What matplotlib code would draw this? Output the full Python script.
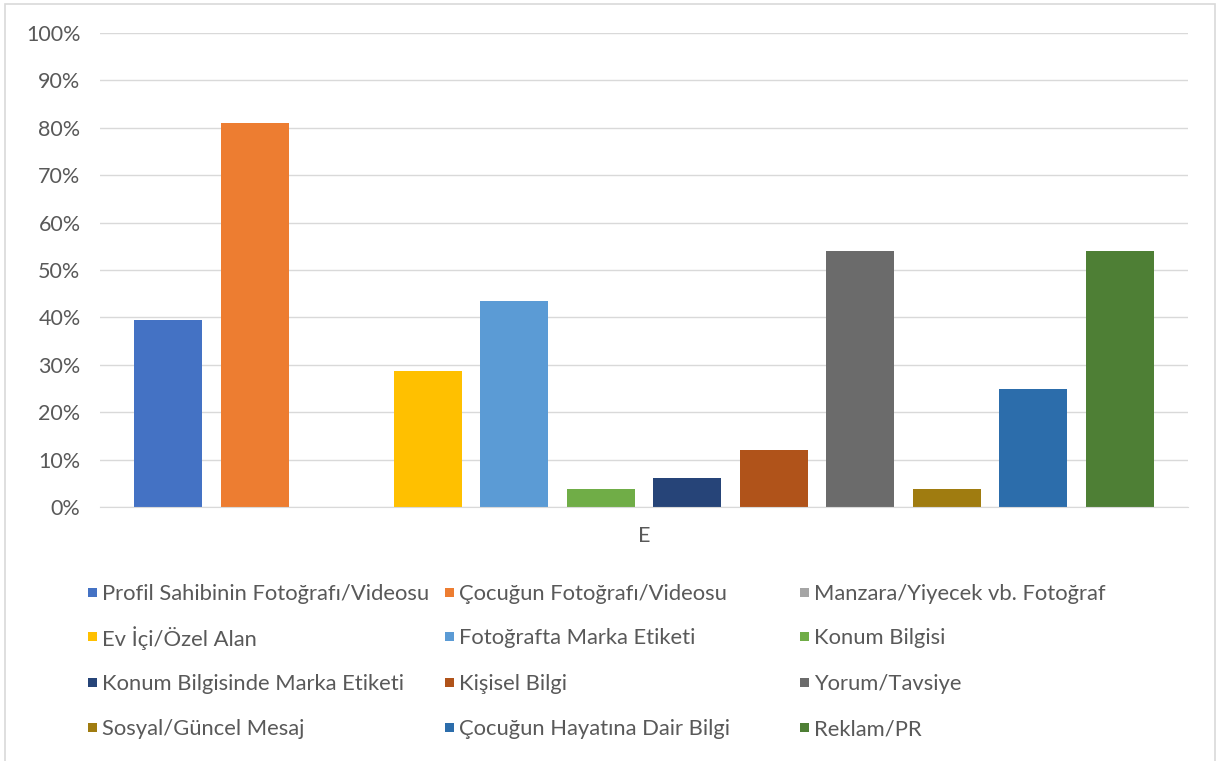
import matplotlib.pyplot as plt
from matplotlib.patches import Rectangle
from matplotlib.ticker import PercentFormatter

plt.rcParams['font.family'] = ['Lato', 'DejaVu Sans']

# ── data ───────────────────────────────────────────────
category = "E"
series = [
    "Profil Sahibinin Fotoğrafı/Videosu",
    "Çocuğun Fotoğrafı/Videosu",
    "Manzara/Yiyecek vb. Fotoğraf",
    "Ev İçi/Özel Alan",
    "Fotoğrafta Marka Etiketi",
    "Konum Bilgisi",
    "Konum Bilgisinde Marka Etiketi",
    "Kişisel Bilgi",
    "Yorum/Tavsiye",
    "Sosyal/Güncel Mesaj",
    "Çocuğun Hayatına Dair Bilgi",
    "Reklam/PR",
]
values = [39.5, 81.0, 0.0, 28.7, 43.5, 3.8, 6.2, 12.0, 54.0, 3.8, 24.9, 54.0]
colors = ["#4472C4", "#ED7D31", "#A5A5A5", "#FFC000", "#5B9BD5", "#70AD47",
          "#264478", "#B0531A", "#6B6B6B", "#A07C10", "#2C6DAB", "#4E7F35"]
yticks = list(range(0, 101, 10))

TEXT = "#595959"
W, H = 1222, 761

fig = plt.figure(figsize=(W / 100, H / 100), dpi=100)
ax = fig.add_axes([0.0818, 0.3338, 0.8905, 0.6228])

pitch = 0.0795
width = 0.0625
n = len(series)
for i, (v, c) in enumerate(zip(values, colors)):
    ax.bar((i - (n - 1) / 2) * pitch, v, width=width, color=c, zorder=2)

ax.set_xlim(-0.5, 0.5)
ax.set_ylim(0, 100)
ax.set_yticks(yticks)
ax.yaxis.set_major_formatter(PercentFormatter(decimals=0))
ax.set_xticks([0])
ax.set_xticklabels([category])
ax.tick_params(axis="both", length=0, labelsize=15.5, labelcolor=TEXT)
ax.tick_params(axis="y", pad=14)
ax.tick_params(axis="x", pad=14)
ax.grid(axis="y", color="#D9D9D9", linewidth=1, zorder=0)
for s in ["top", "right", "left"]:
    ax.spines[s].set_visible(False)
ax.spines["bottom"].set_color("#D9D9D9")

# legend: Excel-style grid, 3 columns filled row by row (pixel layout)
col_px = [88, 445, 800]
row_px = [592, 636, 682, 727]
box = 9
for i, (name, c) in enumerate(zip(series, colors)):
    x = col_px[i % 3]
    y = row_px[i // 3]
    fig.add_artist(Rectangle((x / W, 1 - (y + box / 2) / H), box / W, box / H,
                             transform=fig.transFigure, facecolor=c,
                             edgecolor="none"))
    fig.text((x + box + 5) / W, 1 - y / H, name, fontsize=15.8, color=TEXT,
             ha="left", va="center_baseline")

# faint chart border
fig.add_artist(Rectangle((0.004, -0.01), 0.99, 1.005, transform=fig.transFigure,
                         fill=False, edgecolor="#D9D9D9", linewidth=1.2))

fig.savefig("out.png", dpi=100)
